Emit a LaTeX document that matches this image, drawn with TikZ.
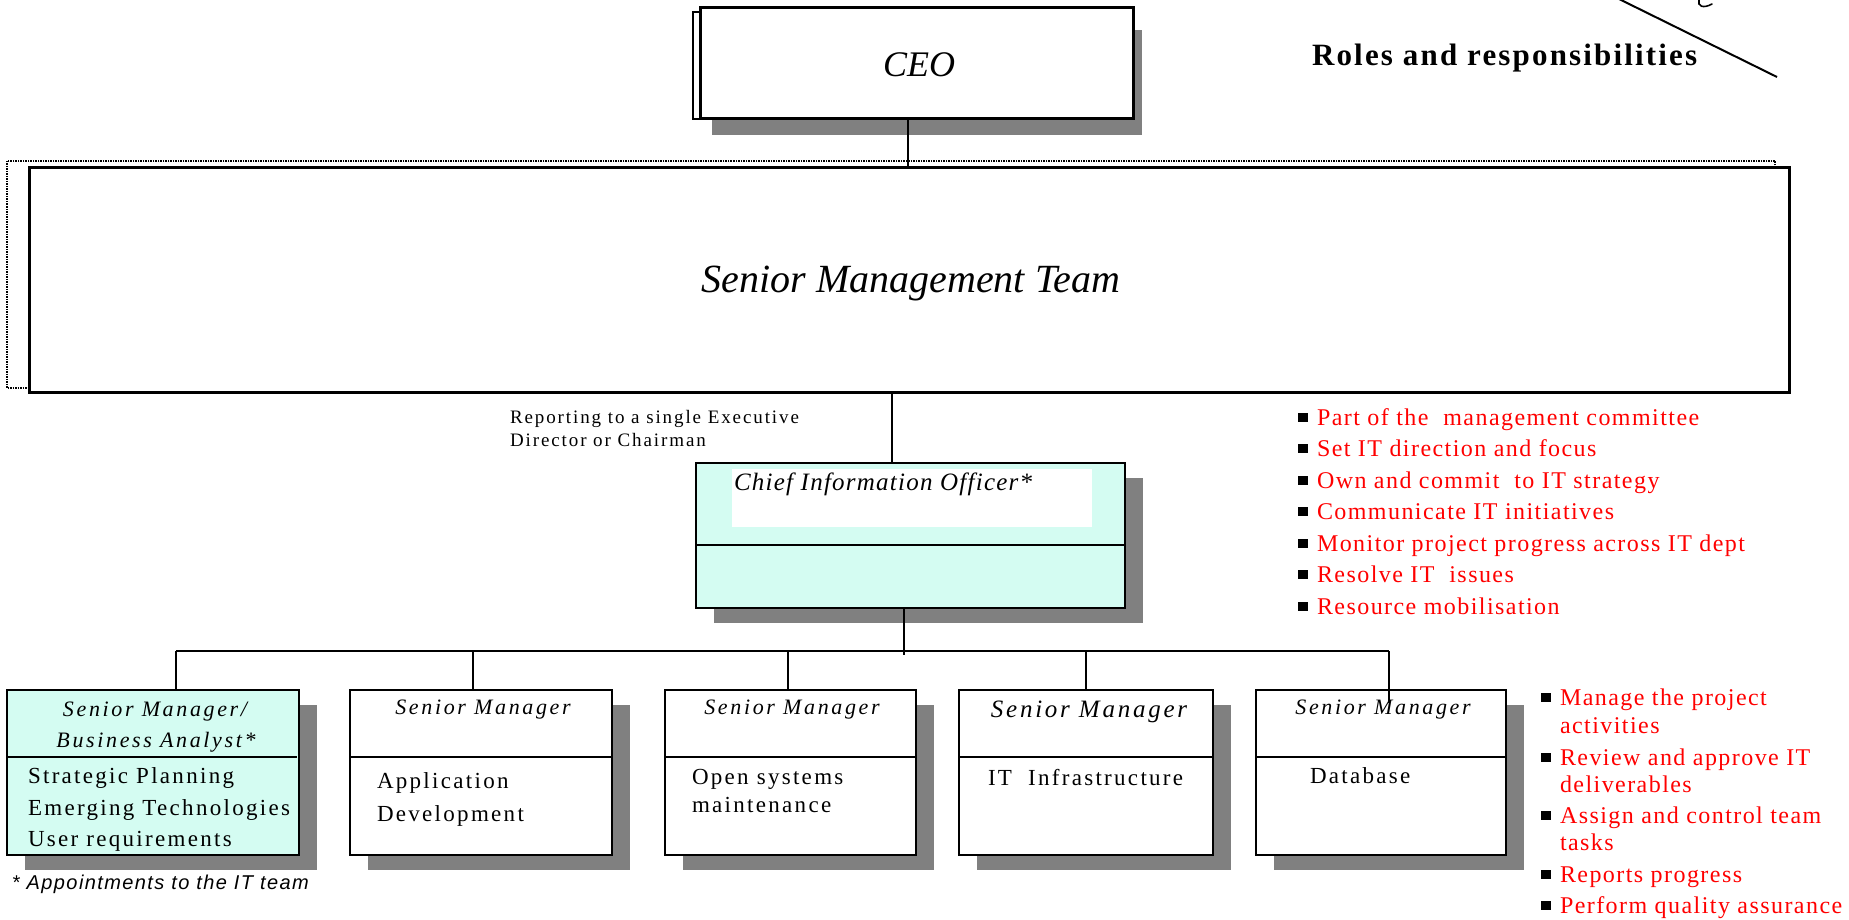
\documentclass[tikz,border=0pt]{standalone}
\usepackage{fontspec}
\setmainfont{Liberation Serif}
\newfontfamily\arialfont{Liberation Sans}
\usetikzlibrary{shadows}
\definecolor{shadowgray}{RGB}{128,128,128}
\definecolor{aquafill}{RGB}{212,252,242}
\definecolor{redtext}{RGB}{255,0,0}
\newcommand\pxsize[1]{\fontsize{#1pt}{#1pt}\selectfont}
\newcommand\lsp[1]{\addfontfeature{LetterSpace=#1}}
\newcommand\bullsq[2]{\fill[black] (#1,#2-12.5) rectangle ++(10,9);}
\begin{document}
\begin{tikzpicture}[x=1pt,y=-1pt,
  box/.style={draw=black, line width=2.2pt, fill=white, inner sep=0pt, outer sep=0pt, anchor=north west},
  shd/.style={drop shadow={shadow xshift=18pt, shadow yshift=-15pt, opacity=1, fill=shadowgray}},
  conn/.style={line width=1.6pt},
  txt/.style={inner sep=0pt, outer sep=0pt, anchor=base west},
  ctxt/.style={inner sep=0pt, outer sep=0pt, anchor=base},
  redt/.style={txt, text=redtext, font=\pxsize{24}\lsp{6}},
  ttl/.style={ctxt, font=\itshape\pxsize{22}\lsp{12}},
  body/.style={txt, font=\pxsize{23}\lsp{10}},
  divline/.style={line width=2pt}
]
\useasboundingbox (0,0) rectangle (1849,920);

% cut-off glyph remnant at top right
\draw[line width=1.6pt, line cap=round] (1699,0) .. controls (1697,6) and (1703,9) .. (1712,4);
\draw[line width=2pt] (1619,-1) -- (1777,77);
\node[txt, font=\bfseries\pxsize{31}\lsp{7}] (roles) at (1312,66) {Roles and responsibilities};

% CEO
\fill[shadowgray] (712,30) rectangle (1142,135);
\draw[line width=1.2pt, fill=white] (693,12) rectangle (1125,119);
\node[box, line width=3pt, minimum width=433pt, minimum height=111pt] (ceo) at (700,8) {};
\node[ctxt, font=\itshape\pxsize{36}] (ceot) at (919,77) {CEO};

% Senior management team
\draw[densely dotted, line width=1.5pt] (7,161) rectangle (1775,388);
\node[box, line width=3pt, minimum width=1760pt, minimum height=224pt] (smt) at (29,168) {};
\node[ctxt, font=\itshape\pxsize{40}] (smtt) at (911,292) {Senior Management Team};

\coordinate (xa) at (908,0);
\draw[conn] (ceo.south -| xa) -- (smt.north -| xa);

% reporting note
\node[txt, font=\pxsize{19}\lsp{10}] (rep1) at (510,423) {Reporting to a single Executive};
\node[txt, font=\pxsize{19}\lsp{10}] (rep2) at (510,446) {Director or Chairman};

% CIO
\node[box, shd, fill=aquafill, line width=2.4pt, minimum width=429pt, minimum height=145pt] (cio) at (696,463) {};
\fill[white] (732,469) rectangle (1092,527);
\draw[divline] (696,545) -- (1125,545);
\node[txt, font=\itshape\pxsize{25}\lsp{5}] (ciot) at (734,490) {Chief Information Officer*};

\coordinate (xb) at (892,0);
\draw[conn] (smt.south -| xb) -- (cio.north -| xb);

% red list 1
\bullsq{1298}{425}\node[redt] (r1) at (1317,425) {Part of the\ \ management committee};
\bullsq{1298}{456.5}\node[redt] (r2) at (1317,456.5) {Set IT direction and focus};
\bullsq{1298}{488}\node[redt] (r3) at (1317,488) {Own and commit\ \ to IT strategy};
\bullsq{1298}{519.5}\node[redt] (r4) at (1317,519.5) {Communicate IT initiatives};
\bullsq{1298}{551}\node[redt] (r5) at (1317,551) {Monitor project progress across IT dept};
\bullsq{1298}{582.5}\node[redt] (r6) at (1317,582.5) {Resolve IT\ \ issues};
\bullsq{1298}{614}\node[redt] (r7) at (1317,614) {Resource mobilisation};

% bottom row boxes
\node[box, shd, fill=aquafill, minimum width=292pt, minimum height=165pt] (b1) at (7,690) {};
\draw[divline] (7,757) -- (297,757);
\node[ttl] (b1t1) at (155,716) {Senior Manager/};
\node[ttl] (b1t2) at (156,747) {Business Analyst*};
\node[body] (b1a) at (28,783) {Strategic Planning};
\node[body] (b1b) at (28,815) {Emerging Technologies};
\node[body] (b1c) at (28,846) {User requirements};

\node[box, shd, minimum width=262pt, minimum height=165pt] (b2) at (350,690) {};
\draw[divline] (350,757) -- (612,757);
\node[ttl] (b2t) at (483,714) {Senior Manager};
\node[body] (b2a) at (377,788) {Application};
\node[body] (b2b) at (377,821) {Development};

\node[box, shd, minimum width=251pt, minimum height=165pt] (b3) at (665,690) {};
\draw[divline] (665,757) -- (916,757);
\node[ttl] (b3t) at (792,714) {Senior Manager};
\node[body] (b3a) at (692,784) {Open systems};
\node[body] (b3b) at (692,812) {maintenance};

\node[box, shd, minimum width=254pt, minimum height=165pt] (b4) at (959,690) {};
\draw[divline] (959,757) -- (1213,757);
\node[ttl, font=\itshape\pxsize{25}\lsp{11}] (b4t) at (1089,717) {Senior Manager};
\node[body] (b4a) at (988,785) {IT\ \ Infrastructure};

\node[box, shd, minimum width=250pt, minimum height=165pt] (b5) at (1256,690) {};
\draw[divline] (1256,757) -- (1506,757);
\node[ttl] (b5t) at (1383,714) {Senior Manager};
\node[body] (b5a) at (1310,783) {Database};

% bus and drops
\coordinate (busc) at (904,655);
\draw[conn] (cio.south -| busc) -- (busc);
\coordinate (busl) at (176,651);
\coordinate (busr) at (1389,651);
\draw[conn] (busl) -- (busr);
\draw[conn] (busl) -- (b1.north -| busl);
\coordinate (d2) at (473,651);
\draw[conn] (d2) -- (b2.north -| d2);
\coordinate (d3) at (788,651);
\draw[conn] (d3) -- (b3.north -| d3);
\coordinate (d4) at (1086,651);
\draw[conn] (d4) -- (b4.north -| d4);
\coordinate (d5) at (1389,703);
\draw[conn] (busr) -- (d5);

% footnote
\node[txt, font=\arialfont\itshape\pxsize{20}\lsp{7}] (foot) at (12,889) {* Appointments to the IT team};

% red list 2
\bullsq{1541}{705}\node[redt] (s1) at (1560,705) {Manage the project};
\node[redt] (s1b) at (1560,733) {activities};
\bullsq{1541}{765}\node[redt] (s2) at (1560,765) {Review and approve IT};
\node[redt] (s2b) at (1560,792) {deliverables};
\bullsq{1541}{823}\node[redt] (s3) at (1560,823) {Assign and control team};
\node[redt] (s3b) at (1560,850) {tasks};
\bullsq{1541}{882}\node[redt] (s4) at (1560,882) {Reports progress};
\bullsq{1541}{913}\node[redt] (s5) at (1560,913) {Perform quality assurance};
\end{tikzpicture}
\end{document}
